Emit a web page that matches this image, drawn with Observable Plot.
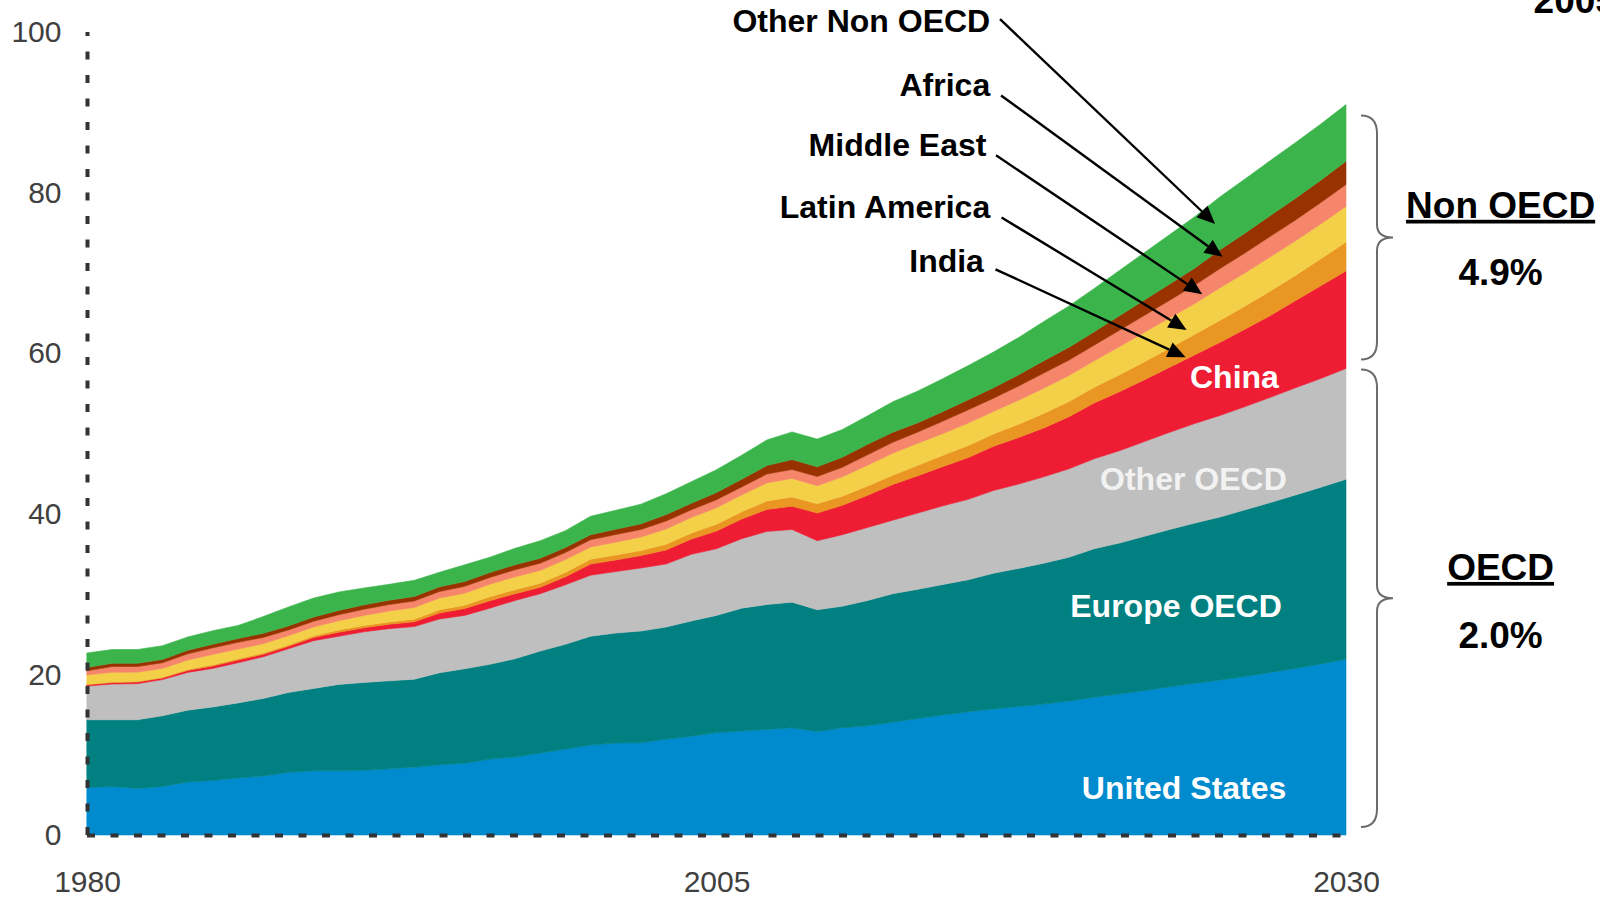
<!DOCTYPE html>
<html>
<head>
<meta charset="utf-8">
<script src="https://cdn.jsdelivr.net/npm/d3@7"></script>
<script src="https://cdn.jsdelivr.net/npm/@observablehq/plot@0.6"></script>
<style>
html, body { margin: 0; padding: 0; background: #fff; }
#chart { width: 1600px; height: 897px; overflow: hidden; }
</style>
</head>
<body>
<div id="chart"></div>
<script>
// ---- Data ----
const years = [1980,1981,1982,1983,1984,1985,1986,1987,1988,1989,
               1990,1991,1992,1993,1994,1995,1996,1997,1998,1999,
               2000,2001,2002,2003,2004,2005,2006,2007,2008,2009,
               2010,2011,2012,2013,2014,2015,2016,2017,2018,2019,
               2020,2021,2022,2023,2024,2025,2026,2027,2028,2029,
               2030];

const unitedStates = [5.9,6.05,5.8,6.05,6.6,6.8,7.1,7.35,7.8,8.0,
                      8.0,8.05,8.25,8.45,8.75,8.95,9.45,9.7,10.2,10.7,
                      11.2,11.45,11.5,11.95,12.3,12.75,12.95,13.15,13.35,12.9,
                      13.35,13.6,14.05,14.5,14.95,15.35,15.7,16.0,16.3,16.7,
                      17.15,17.55,18.0,18.45,18.9,19.3,19.75,20.25,20.75,21.3,
                      21.9];
const europeOECD = [8.45,8.3,8.55,8.8,8.95,9.15,9.35,9.65,9.95,10.25,
                    10.75,10.95,10.95,10.95,11.45,11.75,11.8,12.25,12.7,13.05,
                    13.55,13.7,13.9,13.95,14.35,14.6,15.3,15.55,15.65,15.15,
                    15.15,15.6,16.0,16.1,16.25,16.45,16.9,17.2,17.55,17.9,
                    18.5,18.8,19.2,19.6,19.95,20.3,20.75,21.15,21.6,22.0,
                    22.4];
const otherOECD = [4.2,4.45,4.5,4.5,4.7,4.8,5.0,5.2,5.45,5.95,
                   6.0,6.3,6.5,6.55,6.7,6.65,7.0,7.25,7.15,7.4,
                   7.6,7.65,7.85,7.85,8.3,8.3,8.65,9.1,9.05,8.6,
                   8.9,9.1,9.15,9.5,9.8,10.0,10.3,10.5,10.75,11.0,
                   11.2,11.5,11.8,12.1,12.4,12.65,12.85,13.1,13.35,13.55,
                   13.8];
const china = [0.15,0.18,0.2,0.2,0.25,0.3,0.35,0.3,0.3,0.4,
               0.5,0.5,0.55,0.6,0.75,0.85,0.93,0.85,0.8,1.0,
               1.4,1.45,1.55,1.75,1.9,2.2,2.45,2.75,2.9,3.45,
               3.65,4.0,4.45,4.65,4.9,5.2,5.5,5.8,6.1,6.5,
               6.95,7.35,7.7,8.1,8.55,9.1,9.65,10.2,10.85,11.55,
               12.15];
const india = [0.08,0.08,0.08,0.1,0.12,0.15,0.15,0.17,0.17,0.2,
               0.28,0.29,0.29,0.33,0.4,0.42,0.5,0.5,0.5,0.55,
               0.6,0.62,0.62,0.7,0.75,0.85,0.9,1.05,1.15,1.15,
               1.15,1.15,1.15,1.3,1.4,1.5,1.55,1.65,1.8,1.88,
               1.95,2.1,2.25,2.4,2.55,2.75,2.88,3.05,3.15,3.35,
               3.6];
const latinAmerica = [1.16,1.2,1.15,1.1,1.16,1.29,1.2,1.16,1.15,1.1,
                      1.16,1.25,1.35,1.45,1.45,1.5,1.55,1.6,1.6,1.6,
                      1.5,1.6,1.7,1.9,1.95,2.05,2.1,2.25,2.3,2.25,
                      2.4,2.6,2.75,2.75,2.7,2.8,2.8,3.0,3.15,3.25,
                      3.3,3.5,3.65,3.75,3.85,4.05,4.15,4.25,4.3,4.35,
                      4.43];
const middleEast = [0.5,0.72,0.7,0.7,0.78,0.82,0.85,0.78,0.72,0.72,
                    0.75,0.78,0.8,0.82,0.82,0.85,0.85,0.88,0.9,0.88,
                    0.93,0.95,0.93,1.0,0.95,1.0,1.0,1.1,1.12,1.15,
                    1.2,1.3,1.35,1.4,1.55,1.65,1.65,1.76,1.88,1.91,
                    1.95,2.05,2.12,2.2,2.28,2.4,2.48,2.56,2.6,2.66,
                    2.73];
const africa = [0.42,0.4,0.4,0.42,0.45,0.45,0.48,0.5,0.5,0.52,
                0.53,0.54,0.55,0.56,0.58,0.6,0.6,0.62,0.62,0.62,
                0.62,0.65,0.7,0.8,0.8,0.9,0.95,1.05,1.23,1.2,
                1.25,1.3,1.25,1.15,1.2,1.26,1.3,1.4,1.53,1.6,
                1.66,1.8,1.92,2.02,2.13,2.34,2.46,2.6,2.7,2.78,
                2.9];
const otherNonOECD = [1.81,1.72,1.72,1.71,1.65,1.69,1.62,2.09,2.36,2.36,
                      2.29,2.1,1.98,2.01,1.82,2.08,1.92,2.05,2.18,2.1,
                      2.3,2.37,2.45,2.6,2.7,2.85,3.0,3.2,3.45,3.45,
                      3.45,3.55,3.8,3.95,4.1,4.25,4.45,4.65,4.9,5.15,
                      5.4,5.65,5.9,6.15,6.4,6.6,6.75,6.85,6.95,7.0,
                      7.05];

const seriesNames = ["United States","Europe OECD","Other OECD","China","India",
                     "Latin America","Middle East","Africa","Other Non OECD"];
const seriesValues = [unitedStates, europeOECD, otherOECD, china, india,
                      latinAmerica, middleEast, africa, otherNonOECD];
const seriesColors = ["#008BCE","#008080","#BFBFBF","#EE1D34","#EA9623",
                      "#F4D048","#F5866B","#983300","#3BB44B"];

const yTicks = [0, 20, 40, 60, 80, 100];
const xTicks = [1980, 2005, 2030];

const groupNames = ["Non OECD", "OECD"];
const groupGrowth = ["4.9%", "2.0%"];
const headerText = "2005-2030";

// ---- Long table for Plot ----
const data = seriesNames.flatMap((s, i) =>
  years.map((yr, j) => ({year: yr, series: s, value: seriesValues[i][j]})));

const last = years.length - 1;
const oecdEnd = unitedStates[last] + europeOECD[last] + otherOECD[last];
const totalEnd = seriesValues.reduce((acc, arr) => acc + arr[last], 0);

// ---- Annotations (placement in data coordinates) ----
const insideLabels = [
  {text: "China", x: 2025.55, y: 57.0, fill: "#ffffff"},
  {text: "Other OECD", x: 2023.92, y: 44.3, fill: "#f2f2f2"},
  {text: "Europe OECD", x: 2023.23, y: 28.45, fill: "#ffffff"},
  {text: "United States", x: 2023.55, y: 5.8, fill: "#ffffff"}
];
const calloutLabels = [
  {text: "Other Non OECD", x: 2015.85, y: 101.3, x1: 2016.26, y1: 101.6, x2: 2024.8, y2: 76.1},
  {text: "Africa", x: 2015.85, y: 93.4, x1: 2016.3, y1: 92.1, x2: 2025.1, y2: 72.0},
  {text: "Middle East", x: 2015.7, y: 85.9, x1: 2016.1, y1: 84.65, x2: 2024.29, y2: 67.35},
  {text: "Latin America", x: 2015.85, y: 78.15, x1: 2016.32, y1: 76.9, x2: 2023.67, y2: 62.9},
  {text: "India", x: 2015.6, y: 71.5, x1: 2016.08, y1: 70.45, x2: 2023.63, y2: 59.5}
];
const groupLabels = [
  {text: groupNames[0], x: 2036.12, y: 78.4},
  {text: groupGrowth[0], x: 2036.12, y: 70.0},
  {text: groupNames[1], x: 2036.12, y: 33.3},
  {text: groupGrowth[1], x: 2036.12, y: 24.85}
];
const braces = [
  {lo: oecdEnd, hi: totalEnd, insetTop: 11, insetBot: 9},
  {lo: 0, hi: oecdEnd, insetTop: 1, insetBot: 8}
];

function arrowMark(index, scales) {
  const g = d3.create("svg:g");
  for (const a of calloutLabels) {
    const x1 = scales.x(a.x1), y1 = scales.y(a.y1);
    const x2 = scales.x(a.x2), y2 = scales.y(a.y2);
    const ang = Math.atan2(y2 - y1, x2 - x1);
    const L = 18, W = 8;
    const bx = x2 - L * Math.cos(ang), by = y2 - L * Math.sin(ang);
    g.append("line").attr("x1", x1).attr("y1", y1).attr("x2", bx).attr("y2", by)
      .attr("stroke", "#000").attr("stroke-width", 2.4);
    const px = -Math.sin(ang) * W, py = Math.cos(ang) * W;
    g.append("path")
      .attr("d", `M${x2},${y2}L${bx + px},${by + py}L${bx - px},${by - py}Z`)
      .attr("fill", "#000");
  }
  return g.node();
}

function braceMark(index, scales) {
  const g = d3.create("svg:g").attr("fill", "none").attr("stroke", "#6b6b6b").attr("stroke-width", 2);
  const xEnd = scales.x(years[last]);
  const x0 = xEnd + 15, x1 = xEnd + 31, x2 = xEnd + 47;
  for (const b of braces) {
    const yTop = scales.y(b.hi) + b.insetTop;
    const yBot = scales.y(b.lo) - b.insetBot;
    const yMid = (yTop + yBot) / 2;
    const r = 18, r2 = 13;
    g.append("path").attr("d",
      `M${x0},${yTop}Q${x1},${yTop} ${x1},${yTop + r}` +
      `L${x1},${yMid - r2}Q${x1},${yMid} ${x2},${yMid}` +
      `Q${x1},${yMid} ${x1},${yMid + r2}` +
      `L${x1},${yBot - r}Q${x1},${yBot} ${x0},${yBot}`);
  }
  return g.node();
}

const font = "'Liberation Sans', Arial, Helvetica, sans-serif";

const chart = Plot.plot({
  width: 1600,
  height: 897,
  marginLeft: 87,
  marginRight: 254,
  marginTop: 32,
  marginBottom: 62,
  x: {domain: [1980, 2030]},
  y: {domain: [0, 100]},
  color: {domain: seriesNames, range: seriesColors},
  style: {fontFamily: font, background: "#ffffff", color: "#404040", overflow: "visible"},
  marks: [
    Plot.areaY(data, {x: "year", y: "value", z: "series", fill: "series",
                      stroke: "series", strokeWidth: 0.6}),
    Plot.ruleY([0], {x1: 1980, x2: 2030, stroke: "#333333", strokeWidth: 4, strokeDasharray: "8,15.5"}),
    Plot.ruleX([1980], {y1: 0, y2: 100, stroke: "#333333", strokeWidth: 4, strokeDasharray: "8,15.5"}),
    Plot.axisY(yTicks, {tickSize: 0, tickPadding: 26, fontSize: 30, label: null}),
    Plot.axisX(xTicks, {tickSize: 0, tickPadding: 35, fontSize: 30, label: null, tickFormat: d => String(d)}),
    Plot.text(insideLabels, {x: "x", y: "y", text: "text", fill: "fill", fontSize: 32, fontWeight: "bold"}),
    Plot.text(calloutLabels, {x: "x", y: "y", text: "text", fill: "#000", fontSize: 32, fontWeight: "bold", textAnchor: "end"}),
    arrowMark,
    braceMark,
    Plot.text(groupLabels, {x: "x", y: "y", text: "text", fill: "#000", fontSize: 37, fontWeight: "bold"}),
    Plot.text([headerText], {x: 2037.43, y: 103.9, text: d => d, fill: "#000", fontSize: 37, fontWeight: "bold", textAnchor: "start"})
  ]
});

d3.select(chart).selectAll("text")
  .filter(function() { return groupNames.includes(this.textContent); })
  .style("text-decoration", "underline");

document.getElementById("chart").appendChild(chart);
</script>
</body>
</html>
